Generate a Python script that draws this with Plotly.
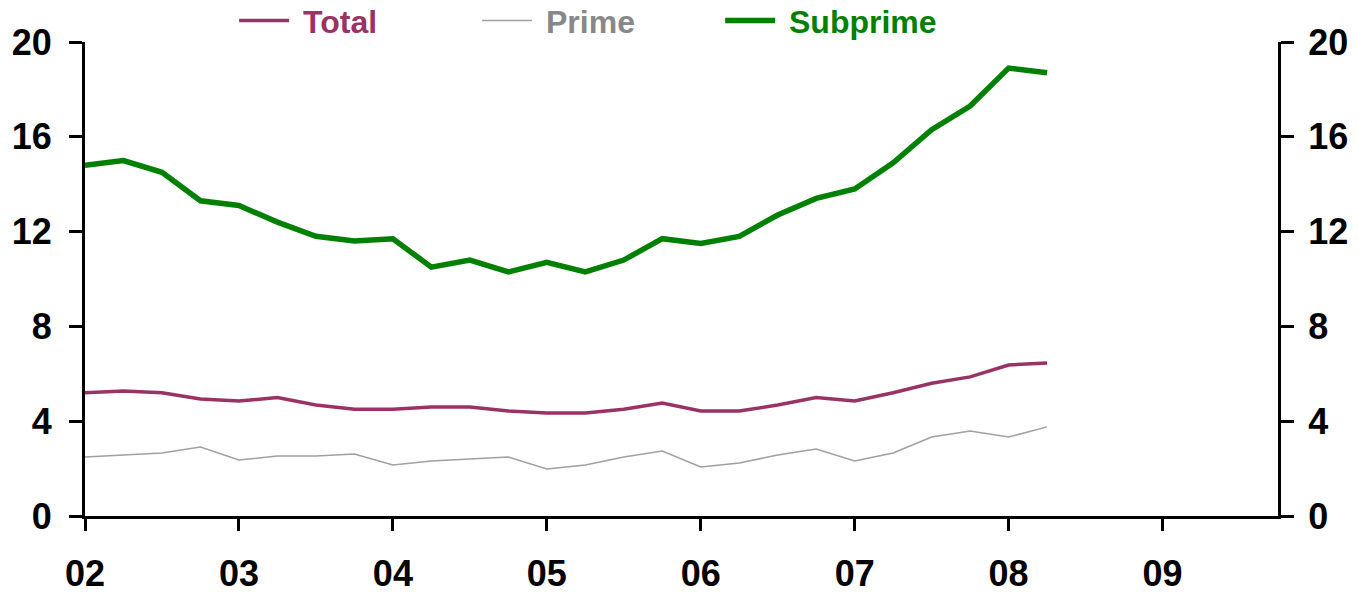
import plotly.graph_objects as go

quarters = [2002 + i * 0.25 for i in range(26)]
total = [5.2, 5.27, 5.2, 4.94, 4.85, 5.0, 4.68, 4.5, 4.5, 4.6, 4.6, 4.43, 4.35, 4.35, 4.5, 4.77,
         4.43, 4.43, 4.68, 5.0, 4.85, 5.2, 5.6, 5.87, 6.37, 6.46]
prime = [2.49, 2.57, 2.66, 2.91, 2.36, 2.53, 2.53, 2.62, 2.15, 2.32, 2.4, 2.49, 1.98, 2.15, 2.49, 2.74,
         2.07, 2.24, 2.57, 2.83, 2.32, 2.66, 3.33, 3.59, 3.33, 3.76]
subprime = [14.8, 15.0, 14.5, 13.3, 13.1, 12.4, 11.8, 11.6, 11.7, 10.5, 10.8, 10.3, 10.7, 10.3, 10.8, 11.7,
            11.5, 11.8, 12.7, 13.4, 13.8, 14.9, 16.3, 17.3, 18.9, 18.7]
x_tickvals = [2002, 2003, 2004, 2005, 2006, 2007, 2008, 2009]
x_ticktext = ["02", "03", "04", "05", "06", "07", "08", "09"]
y_ticks = [0, 4, 8, 12, 16, 20]

fig = go.Figure()
fig.add_trace(go.Scatter(x=quarters, y=total, mode="lines",
                         name='<span style="color:#993366">&nbsp;Total</span>',
                         line=dict(color="#993366", width=3.5)))
fig.add_trace(go.Scatter(x=quarters, y=prime, mode="lines",
                         name='<span style="color:#888888">&nbsp;Prime</span>',
                         line=dict(color="#a0a0a0", width=1.5)))
fig.add_trace(go.Scatter(x=quarters, y=subprime, mode="lines",
                         name='<span style="color:#008000">&nbsp;Subprime</span>',
                         line=dict(color="#008000", width=5.5)))
fig.add_trace(go.Scatter(x=quarters, y=subprime, mode="lines", yaxis="y2",
                         showlegend=False, hoverinfo="skip",
                         line=dict(color="rgba(0,0,0,0)", width=0)))

tickfont = dict(family="Liberation Sans, Arial", size=36, color="black", weight="bold")
fig.update_layout(
    width=1358, height=593,
    margin=dict(l=85, r=80, t=42, b=77, autoexpand=False),
    plot_bgcolor="white", paper_bgcolor="white",
    font=dict(family="Liberation Sans, Arial"),
    showlegend=True,
    legend=dict(orientation="h", x=0.125, xanchor="left", y=1.045, yanchor="middle",
                font=dict(family="Liberation Sans, Arial", size=32, weight="bold"),
                itemwidth=50, entrywidth=178, entrywidthmode="pixels",
                bgcolor="rgba(0,0,0,0)"),
    xaxis=dict(range=[2002, 2009.75], tickvals=x_tickvals, ticktext=x_ticktext,
               showgrid=False, zeroline=False, showline=True, linecolor="black", linewidth=3,
               ticks="outside", ticklen=12, tickwidth=3, tickcolor="black",
               tickfont=tickfont, ticklabelstandoff=12, automargin=False),
    yaxis=dict(range=[0, 20], tickvals=y_ticks,
               showgrid=False, zeroline=False, showline=True, linecolor="black", linewidth=3,
               ticks="outside", ticklen=13, tickwidth=3, tickcolor="black",
               tickfont=tickfont, ticklabelstandoff=10, automargin=False),
    yaxis2=dict(range=[0, 20], tickvals=y_ticks, overlaying="y", side="right", anchor="x",
                showgrid=False, zeroline=False, showline=True, linecolor="black", linewidth=3,
                ticks="outside", ticklen=13, tickwidth=3, tickcolor="black",
                tickfont=tickfont, ticklabelstandoff=7, automargin=False),
)

fig.write_html("out.html", config={"displayModeBar": False},
               post_script="document.body.style.margin='0';document.body.style.padding='0';")
